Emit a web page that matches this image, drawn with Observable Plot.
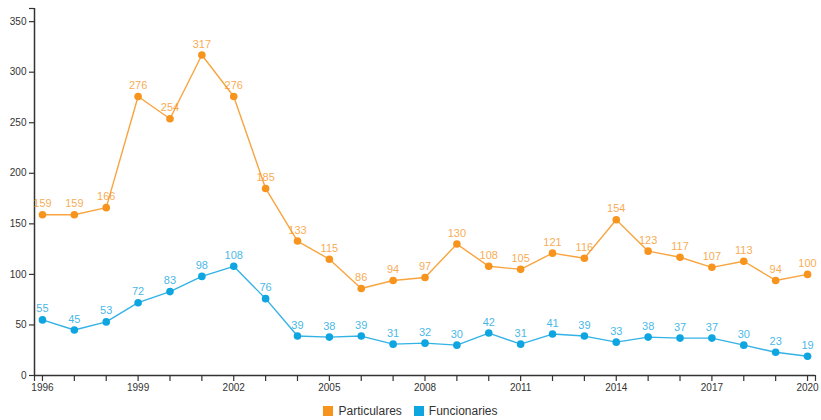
<!DOCTYPE html>
<html><head><meta charset="utf-8">
<script src="https://cdn.jsdelivr.net/npm/d3@7"></script>
<script src="https://cdn.jsdelivr.net/npm/@observablehq/plot@0.6"></script>
<style>
body{margin:0;background:#fff;font-family:"Liberation Sans",Arial,sans-serif;}
#legend{display:flex;justify-content:center;gap:12px;font-size:12px;color:#333;margin-top:8px;margin-left:0px;}
#legend span.sw{display:inline-block;width:10px;height:10px;margin-right:5px;vertical-align:-1px;}
</style></head><body>
<div id="chart"></div>
<div id="legend"></div>
<script>
const years = [1996,1997,1998,1999,2000,2001,2002,2003,2004,2005,2006,2007,2008,2009,2010,2011,2012,2013,2014,2015,2016,2017,2018,2019,2020];
const particulares = [159,159,166,276,254,317,276,185,133,115,86,94,97,130,108,105,121,116,154,123,117,107,113,94,100];
const funcionaries = [55,45,53,72,83,98,108,76,39,38,39,31,32,30,42,31,41,39,33,38,37,37,30,23,19];
const seriesNames = ["Particulares","Funcionaries"];
const colors = ["#f7941d","#0ea5e0"];
const yTicks = [0,50,100,150,200,250,300,350];
const xLabelYears = [1996,1999,2002,2005,2008,2011,2014,2017,2020];

const data = [];
years.forEach((y,i)=>{
  data.push({year:y, value:particulares[i], series:seriesNames[0]});
  data.push({year:y, value:funcionaries[i], series:seriesNames[1]});
});
const xMin = 1995.75, xMax = 2020.25, yTop = 363;
const cScale = {domain:seriesNames, range:colors};

const chart = Plot.plot({
  width:821, height:396,
  marginTop:8, marginBottom:21, marginLeft:34, marginRight:6,
  style:{fontFamily:"Liberation Sans, Arial, sans-serif", fontSize:"10px", color:"#333"},
  x:{domain:[xMin,xMax]},
  y:{domain:[0,yTop]},
  color:cScale,
  marks:[
    Plot.axisY({ticks:[...yTicks, yTop], tickFormat:d=> d===yTop?"":d, tickSize:5, tickPadding:3, label:null, stroke:"#333", strokeWidth:1.2, fill:"#333"}),
    Plot.axisX({ticks:[xMin,...years,xMax], tickFormat:d=> xLabelYears.includes(d)? String(d):"", tickSize:6, tickPadding:2, label:null, stroke:"#333", strokeWidth:1.2, fill:"#333"}),
    Plot.ruleX([xMin],{y1:0,y2:yTop,stroke:"#333",strokeWidth:1.5}),
    Plot.ruleY([0],{x1:xMin,x2:xMax,stroke:"#333",strokeWidth:1.5}),
    Plot.line(data,{x:"year",y:"value",stroke:"series",strokeWidth:1.4,strokeOpacity:0.85}),
    Plot.dot(data,{x:"year",y:"value",fill:"series",r:3.8}),
    Plot.text(data,{x:"year",y:"value",text:"value",fill:"series",fillOpacity:0.8,dy:-11,fontSize:11})
  ]
});
document.getElementById("chart").appendChild(chart);
const lg = document.getElementById("legend");
seriesNames.forEach((n,i)=>{
  const d=document.createElement("div");
  d.innerHTML=`<span class="sw" style="background:${colors[i]}"></span>${n}`;
  lg.appendChild(d);
});
</script></body></html>
